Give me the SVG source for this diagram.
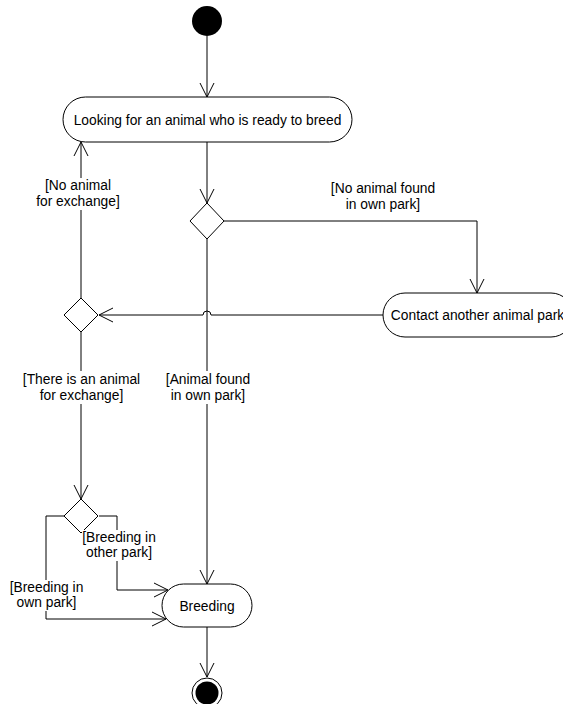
<svg xmlns="http://www.w3.org/2000/svg" width="563" height="704" viewBox="0 0 563 704">
<style>
.n{fill:#fff;stroke:#000;stroke-width:1}
.c{fill:none;stroke:#000;stroke-width:1}
text{font-family:"Liberation Sans",Arial,Helvetica,sans-serif;font-size:13.8px;fill:#000;text-anchor:middle}
.bg{fill:#fff;stroke:none}
</style>
<defs>
<marker id="a" markerUnits="userSpaceOnUse" markerWidth="16" markerHeight="16" viewBox="0 0 16 16" refX="15" refY="8" orient="auto">
<path d="M1,1 L15,8 L1,15" fill="none" stroke="#000" stroke-width="1"/>
</marker>
</defs>
<g id="connectors">
<path class="c" d="M207,36 L207,97" marker-end="url(#a)"/>
<path class="c" d="M207,142 L207,203" marker-end="url(#a)"/>
<path class="c" d="M224,221 L477,221 L477,293" marker-end="url(#a)"/>
<path class="c" d="M383,315 L211,315 A4,4 0 0 0 203,315 L99,315" marker-end="url(#a)"/>
<path class="c" d="M81,298 L81,142" marker-end="url(#a)"/>
<path class="c" d="M81,332 L81,499" marker-end="url(#a)"/>
<path class="c" d="M207,239 L207,584" marker-end="url(#a)"/>
<path class="c" d="M64,516 L46,516 L46,619 L166,619" marker-end="url(#a)"/>
<path class="c" d="M99,516 L117,516 L117,590 L168,590" marker-end="url(#a)"/>
<path class="c" d="M207,627 L207,677" marker-end="url(#a)"/>
</g>
<g id="start"><circle cx="207" cy="21" r="15" fill="#000"/></g>
<g id="looking">
<rect class="n" x="63" y="97" width="289" height="45" rx="22.5"/>
<text x="207.5" y="124.5">Looking for an animal who is ready to breed</text>
</g>
<g id="decision1"><path class="n" d="M207,203 L224,221 L207,239 L190,221 Z"/></g>
<g id="contact">
<rect class="n" x="383" y="293" width="190" height="44" rx="22"/>
<text x="477.5" y="320">Contact another animal park</text>
</g>
<g id="decision2"><path class="n" d="M81,298 L98,315 L81,332 L64,315 Z"/></g>
<g id="decision3"><path class="n" d="M81,499 L98,516 L81,533 L64,516 Z"/></g>
<g id="breeding">
<rect class="n" x="162" y="584" width="90" height="43" rx="21.5"/>
<text x="207" y="610.5">Breeding</text>
</g>
<g id="end">
<circle cx="207" cy="693" r="15" fill="#fff" stroke="#000" stroke-width="1"/>
<circle cx="207" cy="693" r="11.5" fill="#000"/>
</g>
<g id="labels">
<rect class="bg" x="34" y="178" width="88" height="32"/>
<text x="78" y="189.5">[No animal</text>
<text x="78" y="205.5">for exchange]</text>
<text x="383" y="192.5">[No animal found</text>
<text x="383" y="208.5">in own park]</text>
<rect class="bg" x="21" y="371" width="121" height="33"/>
<text x="81.5" y="384">[There is an animal</text>
<text x="81.5" y="400">for exchange]</text>
<rect class="bg" x="163" y="371" width="90" height="33"/>
<text x="208" y="384">[Animal found</text>
<text x="208" y="400">in own park]</text>
<rect class="bg" x="82" y="530" width="75" height="31"/>
<text x="119" y="541.5">[Breeding in</text>
<text x="119" y="557">other park]</text>
<rect class="bg" x="7" y="580" width="79" height="31"/>
<text x="46.5" y="591.5">[Breeding in</text>
<text x="46.5" y="607">own park]</text>
</g>
</svg>
